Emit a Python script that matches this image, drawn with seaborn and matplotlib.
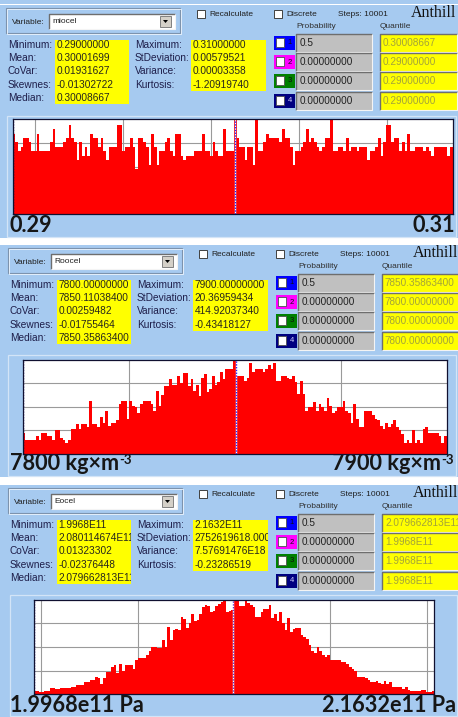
import numpy as np
import pandas as pd
import matplotlib
matplotlib.use("Agg")
import matplotlib.pyplot as plt
from matplotlib.patches import Rectangle, Polygon
from matplotlib.transforms import Bbox
import seaborn as sns

sns.set_theme(style="white")
plt.rcParams['font.family'] = ['Liberation Sans', 'DejaVu Sans']

# ---------------- data ----------------
variables = ["miocel", "Roocel", "Eocel"]
steps_text = "Steps: 10001"

left_names = ["Minimum:", "Mean:", "CoVar:", "Skewnes:", "Median:"]
right_names = ["Maximum:", "StDeviation:", "Variance:", "Kurtosis:"]

miocel_left = ["0.29000000", "0.30001699", "0.01931627", "-0.01302722", "0.30008667"]
miocel_right = ["0.31000000", "0.00579521", "0.00003358", "-1.20919740"]
miocel_quant = ["0.30008667", "0.29000000", "0.29000000", "0.29000000"]

roocel_left = ["7800.00000000", "7850.11038400", "0.00259482", "-0.01755464", "7850.35863400"]
roocel_right = ["7900.00000000", "20.36959434", "414.92037340", "-0.43418127"]
roocel_quant = ["7850.35863400", "7800.00000000", "7800.00000000", "7800.00000000"]

eocel_left = ["1.9968E11", "2.080114674E11", "0.01323302", "-0.02376448", "2.079662813E11"]
eocel_right = ["2.1632E11", "2752619618.0000", "7.57691476E18", "-0.23286519"]
eocel_quant = ["2.079662813E11", "1.9968E11", "1.9968E11", "1.9968E11"]

probabilities = ["0.5", "0.00000000", "0.00000000", "0.00000000"]

miocel_range = (0.29, 0.31)
roocel_range = (7800.0, 7900.0)
eocel_range = (1.9968e11, 2.1632e11)
medians = [0.30008667, 7850.358634, 2.079662813e11]

miocel_grid = [0.291, 0.295, 0.299, 0.303, 0.307]
roocel_grid = [7825, 7875]
eocel_grid = [2.00e11, 2.04e11, 2.08e11, 2.12e11, 2.16e11]

axis_labels = [("0.29", "0.31"),
               ("7800 kg\u00d7m", "7900 kg\u00d7m"),
               ("1.9968e11 Pa", "2.1632e11 Pa")]

miocel_counts = [
    18, 16, 14, 15, 17, 17, 16, 14, 14, 18, 14, 14, 14, 14, 16, 19, 15, 15, 15, 16,
    17, 20, 17, 16, 12, 16, 13, 15, 13, 18, 17, 17, 15, 17, 14, 12, 15, 15, 15, 20,
    20, 14, 15, 15, 17, 15, 10, 17, 17, 16, 15, 11, 18, 15, 11, 14, 14, 16, 17, 14,
    13, 18, 18, 13, 12, 13, 13, 13, 14, 14, 14, 18, 14, 14, 13, 16, 14, 13, 13, 19,
    14, 14, 14, 21, 17, 15, 15, 12, 15, 15, 11, 21, 14, 14, 16, 18, 17, 17, 17, 17,
    16, 19, 17, 17, 15, 11, 14, 14, 15, 16, 19, 16, 17, 16, 15, 14, 15, 17, 17, 21,
    14, 14, 15, 15, 14, 17, 14, 15, 15, 14, 15, 15, 15, 12, 14, 14, 15, 17, 13, 16,
    20, 20, 16, 17, 17, 14, 16, 14, 18, 14, 14, 15, 15, 15, 14, 15, 14, 13, 15, 15,
    15, 15, 15, 13, 15]

roocel_counts = [
    22, 15, 15, 15, 15, 19, 15, 22, 22, 19, 19, 15, 25, 25, 17, 15, 12, 15, 26, 26,
    32, 26, 32, 32, 29, 56, 32, 32, 29, 39, 33, 46, 30, 33, 33, 36, 53, 56, 56, 37,
    56, 51, 50, 43, 53, 56, 56, 56, 53, 46, 67, 51, 63, 72, 72, 80, 73, 73, 83, 75,
    86, 86, 72, 80, 67, 73, 61, 81, 85, 66, 69, 83, 73, 76, 87, 80, 90, 90, 90, 100,
    83, 83, 83, 77, 81, 96, 87, 90, 90, 90, 87, 90, 94, 90, 96, 77, 77, 83, 83, 81,
    80, 83, 76, 64, 77, 64, 46, 50, 50, 55, 46, 53, 50, 46, 59, 51, 43, 46, 50, 50,
    56, 46, 43, 33, 53, 37, 29, 29, 46, 46, 46, 41, 37, 36, 30, 27, 33, 29, 32, 36,
    29, 25, 21, 12, 15, 12, 25, 12, 15, 12, 26, 29, 22, 22, 22, 22, 19, 12, 19]

eocel_counts = [
    3, 3, 2, 2, 4, 4, 7, 7, 6, 6, 7, 7, 7, 7, 8, 8, 10, 10, 10, 13,
    13, 15, 15, 18, 17, 11, 17, 24, 24, 29, 31, 22, 32, 25, 31, 31, 31, 27, 36, 38,
    38, 38, 42, 46, 50, 50, 49, 49, 57, 50, 71, 57, 68, 69, 68, 82, 80, 70, 75, 85,
    78, 79, 85, 92, 94, 93, 87, 88, 93, 95, 98, 99, 87, 88, 89, 99, 99, 93, 93, 99,
    96, 94, 92, 82, 82, 87, 90, 90, 94, 81, 85, 78, 87, 75, 68, 81, 66, 69, 70, 70,
    63, 61, 58, 52, 46, 44, 50, 46, 42, 39, 42, 36, 36, 36, 36, 34, 34, 32, 29, 27,
    25, 18, 18, 18, 17, 15, 13, 13, 14, 12, 11, 14, 11, 13, 8, 8, 8, 8, 6, 8,
    5, 4, 4, 4, 4, 5, 5, 2, 2, 4]

# ---------------- styling ----------------
W, H = 458, 717
SKY = "#A6CAF0"
YELLOW = "#FFFF00"
GREY = "#C0C0C0"
LABEL_C = "#1e1e4a"
VALUE_C = "#26261c"
QUANT_C = "#a3a33a"
SWATCHES = ["#0000FF", "#FF00FF", "#008000", "#000080"]

fig = plt.figure(figsize=(W / 100, H / 100), dpi=100, facecolor=SKY)
ax = fig.add_axes([0, 0, 1, 1])
ax.set_xlim(0, W)
ax.set_ylim(H, 0)
ax.axis("off")


def sunken(x, y, w, h, face):
    ax.add_patch(Rectangle((x, y), w, h, facecolor=face, edgecolor="none", zorder=2))
    ax.plot([x, x, x + w], [y + h, y, y], color="#6e6e6e", lw=1.0, zorder=3,
            solid_capstyle="butt")
    ax.plot([x, x + w, x + w], [y + h, y + h, y], color="#f4f4f4", lw=0.8, zorder=3,
            solid_capstyle="butt")


def clipped_text(x, y, s, box, **kw):
    """Text that is cut at the edges of its field, like an edit box."""
    t = ax.text(x, y, s, clip_on=True, zorder=4, **kw)
    (px0, py0), (px1, py1) = ax.transData.transform(
        [(box[0], box[1]), (box[0] + box[2], box[1] + box[3])])
    t.set_clip_path(None)
    t.set_clip_box(Bbox.from_extents(min(px0, px1), min(py0, py1),
                                     max(px0, px1), max(py0, py1)))
    return t


def draw_header(dx, dy, variable, lvals, rvals, quants):
    # Variable group box
    ax.add_patch(Rectangle((6 + dx, 8 + dy), 174, 25, fill=False, edgecolor="#7d93ad", lw=0.8))
    ax.add_patch(Rectangle((7 + dx, 9 + dy), 174, 25, fill=False, edgecolor="#eef5fd", lw=0.6))
    ax.text(12 + dx, 22 + dy, "Variable:", fontsize=6, va="center", color="#202020")
    sunken(49 + dx, 14 + dy, 126, 15, "white")
    ax.text(52 + dx, 21.5 + dy, variable, fontsize=6, va="center", color="#202020", zorder=4)
    ax.add_patch(Rectangle((160 + dx, 16 + dy), 11, 11, facecolor="#d4d0c8",
                           edgecolor="#808080", lw=0.7, zorder=4))
    ax.add_patch(Polygon([(163 + dx, 20 + dy), (168 + dx, 20 + dy), (165.5 + dx, 23 + dy)],
                         closed=True, facecolor="black", edgecolor="none", zorder=5))

    # check boxes, steps, logo
    for cx, label in ((197, "Recalculate"), (274, "Discrete")):
        ax.add_patch(Rectangle((cx + dx, 10 + dy), 8, 8, facecolor="white",
                               edgecolor="#404040", lw=0.7))
        ax.text(cx + 12 + dx, 14.5 + dy, label, fontsize=6, va="center", color="#202020")
    ax.text(338 + dx, 15 + dy, steps_text, fontsize=6, va="center", color="#202020")
    ax.text(411 + dx, 13 + dy, "Anthill", fontsize=11.5, va="center",
            family=["Liberation Serif", "DejaVu Serif"], color="#101010")
    ax.text(296 + dx, 27 + dy, "Probability", fontsize=6, va="center", color="#303030")
    ax.text(380 + dx, 27 + dy, "Quantile", fontsize=6, va="center", color="#303030")

    # statistics blocks
    row_y = [45, 58.3, 71.5, 84.7, 98]
    lbox = (55 + dx, 39.5 + dy, 74, 64.5)
    rbox = (191 + dx, 39.5 + dy, 75, 51.5)
    ax.add_patch(Rectangle(lbox[:2], lbox[2], lbox[3], facecolor=YELLOW, edgecolor="none"))
    ax.add_patch(Rectangle(rbox[:2], rbox[2], rbox[3], facecolor=YELLOW, edgecolor="none"))
    for name, val, yy in zip(left_names, lvals, row_y):
        ax.text(8 + dx, yy + dy, name, fontsize=7.3, va="center", color=LABEL_C)
        clipped_text(56.5 + dx, yy + dy, val, lbox, fontsize=7.3, va="center", color=VALUE_C)
    for name, val, yy in zip(right_names, rvals, row_y):
        ax.text(135 + dx, yy + dy, name, fontsize=7.3, va="center", color=LABEL_C)
        clipped_text(192.5 + dx, yy + dy, val, rbox, fontsize=7.3, va="center", color=VALUE_C)

    # probability / quantile rows
    for k, yc in enumerate([42.5, 62, 81, 100.5]):
        yc = yc + dy
        ax.add_patch(Rectangle((274 + dx, yc - 7), 21, 14, facecolor=SWATCHES[k], edgecolor="none"))
        ax.add_patch(Rectangle((276 + dx, yc - 5), 8, 9, facecolor="white",
                               edgecolor="#505050", lw=0.6))
        ax.text(290 + dx, yc, str(k + 1), fontsize=5.5, va="center", ha="center",
                color="#101010" if k != 3 else "#d0d0ff")
        sunken(296 + dx, yc - 9, 76, 18, GREY)
        ax.text(300 + dx, yc, probabilities[k], fontsize=7.2, va="center", color="#202020", zorder=4)
        qbox = (380 + dx, yc - 9, 77, 18)
        sunken(*qbox, YELLOW)
        clipped_text(383 + dx, yc, quants[k], (qbox[0], qbox[1], qbox[2] - 1, qbox[3]),
                     fontsize=7.2, va="center", color=QUANT_C)


def draw_hist(rect, counts, rng, ymax, gridx, median, median_color):
    x0, y0, x1, y1 = rect
    hax = fig.add_axes([x0 / W, 1 - y1 / H, (x1 - x0) / W, (y1 - y0) / H])
    lo, hi = rng
    width = (hi - lo) / len(counts)
    centers = lo + width * (np.arange(len(counts)) + 0.5)
    df = pd.DataFrame({"value": centers, "count": counts})
    sns.histplot(data=df, x="value", weights="count", bins=len(counts), binrange=rng,
                 element="step", fill=True, color="#FF0000", alpha=1, linewidth=0, ax=hax)
    hax.set_facecolor("white")
    hax.set_xlim(lo, hi)
    hax.set_ylim(0, ymax)
    hax.set_xticks(gridx)
    hax.set_yticks([ymax * q for q in (0.25, 0.5, 0.75)])
    hax.grid(True, color="#9a9a9a", lw=0.8)
    hax.set_axisbelow(True)
    hax.tick_params(length=0, labelbottom=False, labelleft=False)
    hax.set_xlabel("")
    hax.set_ylabel("")
    for s in hax.spines.values():
        s.set_visible(True)
        s.set_color("#101030")
        s.set_linewidth(0.9)
    hax.axvline(lo, color="#000080", lw=1.0, ls=(0, (1, 1)))
    hax.axvline(median, color="white", lw=1.0)
    hax.axvline(median, color=median_color, lw=1.0, ls=(0, (1, 1)))
    return hax


panel_dy = [0, 240, 480]
panel_dx = [0, 2, 2]
left_sets = [miocel_left, roocel_left, eocel_left]
right_sets = [miocel_right, roocel_right, eocel_right]
quant_sets = [miocel_quant, roocel_quant, eocel_quant]

# white seams between the stacked windows
ax.add_patch(Rectangle((0, 3.5), W, 1, facecolor="white", edgecolor="none"))
ax.add_patch(Rectangle((0, 238.0), W, 7.0, facecolor="white", edgecolor="none"))
ax.add_patch(Rectangle((0, 476.5), W, 8.5, facecolor="white", edgecolor="none"))

for i in range(3):
    draw_header(panel_dx[i], panel_dy[i], variables[i], left_sets[i], right_sets[i], quant_sets[i])

# histogram frames
for fx0, fy0, fx1, fy1 in [(7, 116, 456, 237), (8, 355, 456, 476), (10, 595, 457, 716)]:
    ax.add_patch(Rectangle((fx0, fy0), fx1 - fx0, fy1 - fy0, fill=False,
                           edgecolor="#d3e4f7", lw=0.9))

draw_hist((12.7, 119.3, 452.7, 213.7), miocel_counts, miocel_range, 21.2,
          miocel_grid, medians[0], "#2020ff")
draw_hist((22.7, 359.7, 446.7, 454.0), roocel_counts, roocel_range, 100,
          roocel_grid, medians[1], "#2020ff")
draw_hist((33.7, 599.7, 434.3, 694.3), eocel_counts, eocel_range, 100,
          eocel_grid, medians[2], "#6a30c0")

# range labels under the histograms
big = dict(fontsize=15.6, fontweight="bold", family=["Lato", "DejaVu Sans"], color="#161616")
sup = dict(fontsize=9.5, fontweight="bold", family=["Lato", "DejaVu Sans"], color="#161616")

ax.text(10, 225, axis_labels[0][0], ha="left", va="center", **big)
ax.text(455, 225, axis_labels[0][1], ha="right", va="center", **big)

t = ax.text(10, 463, axis_labels[1][0], ha="left", va="center", **big)
ax.annotate("-3", xy=(1, 0.92), xycoords=t, xytext=(0.4, 0), textcoords="offset points",
            ha="left", va="top", **sup)
t = ax.text(441, 463, axis_labels[1][1], ha="right", va="center", **big)
ax.annotate("-3", xy=(1, 0.92), xycoords=t, xytext=(0.4, 0), textcoords="offset points",
            ha="left", va="top", **sup)

ax.text(10, 706, axis_labels[2][0], ha="left", va="center", **big)
ax.text(456, 706, axis_labels[2][1], ha="right", va="center", **big)

fig.savefig("out.png", dpi=100, facecolor=SKY)
